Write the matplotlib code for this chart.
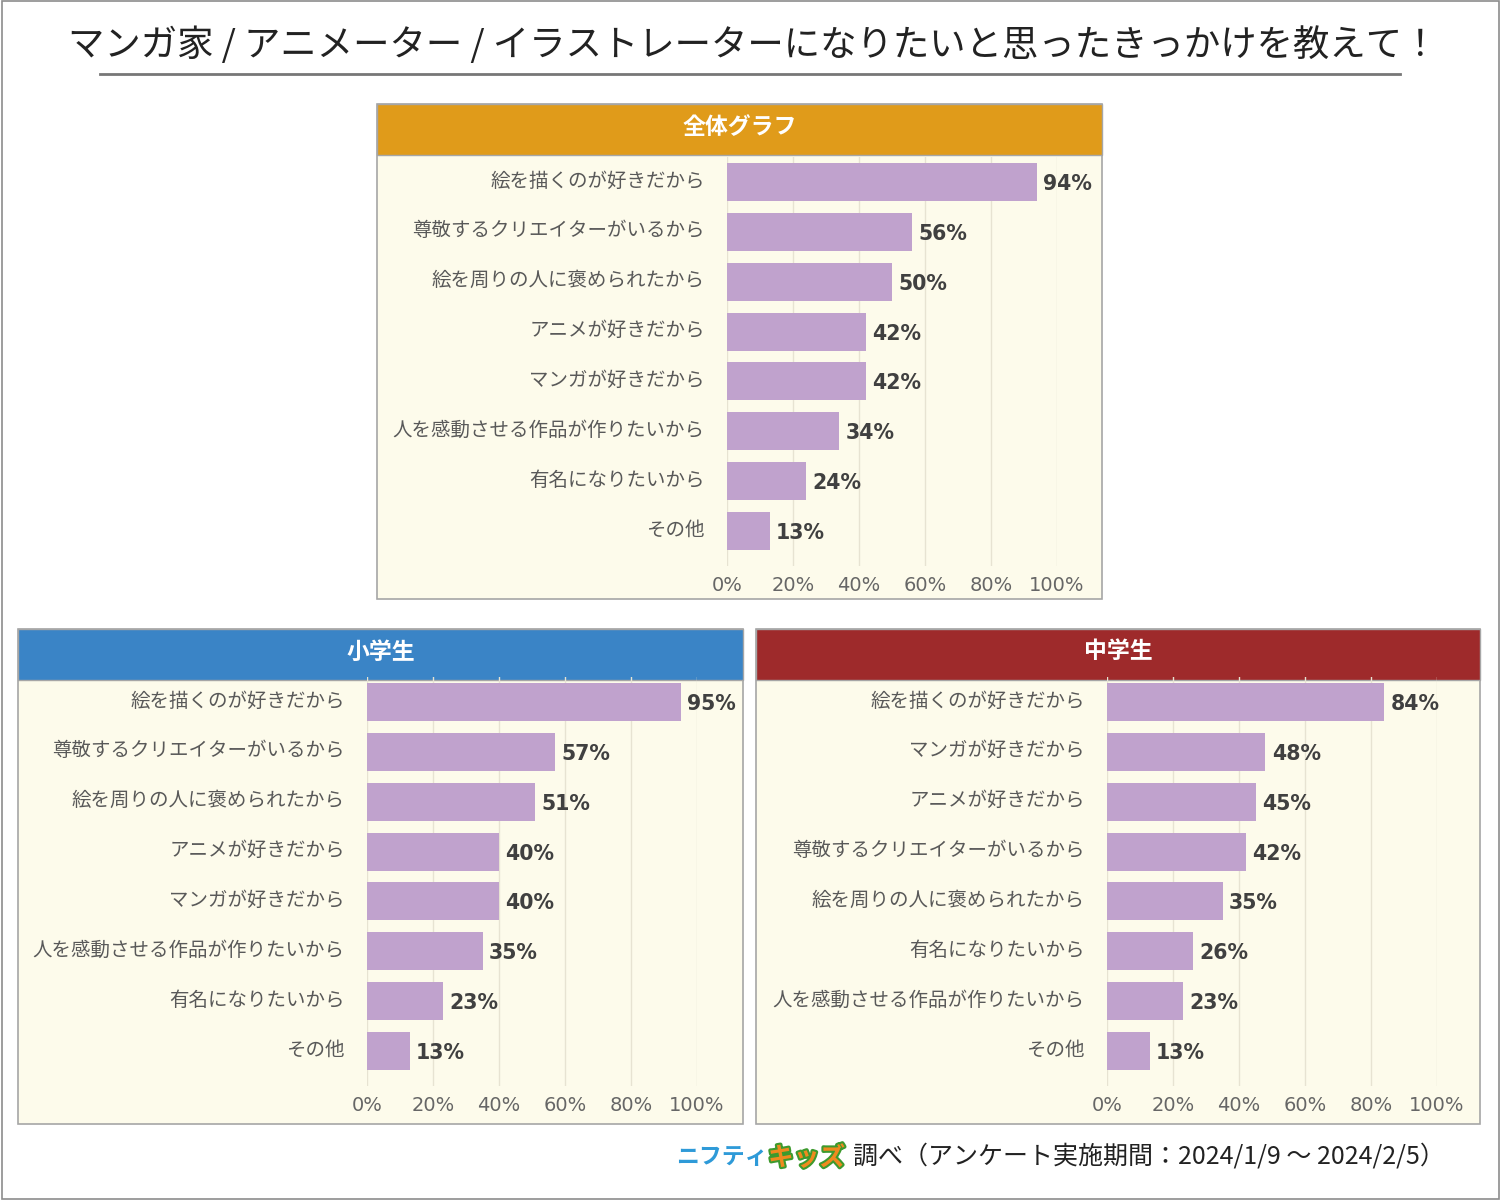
import matplotlib.pyplot as plt
from matplotlib.patches import Rectangle
from matplotlib.lines import Line2D
import matplotlib.patheffects as pe

# fonts: Japanese text first, digits look closer to Verdana in DejaVu
JP = ['Noto Sans CJK JP', 'DejaVu Sans']
NUM = ['DejaVu Sans', 'Noto Sans CJK JP']

TITLE = "マンガ家 / アニメーター / イラストレーターになりたいと思ったきっかけを教えて！"

# 全体グラフ
all_labels = ["絵を描くのが好きだから", "尊敬するクリエイターがいるから", "絵を周りの人に褒められたから",
              "アニメが好きだから", "マンガが好きだから", "人を感動させる作品が作りたいから",
              "有名になりたいから", "その他"]
all_values = [94, 56, 50, 42, 42, 34, 24, 13]

# 小学生
elem_labels = ["絵を描くのが好きだから", "尊敬するクリエイターがいるから", "絵を周りの人に褒められたから",
               "アニメが好きだから", "マンガが好きだから", "人を感動させる作品が作りたいから",
               "有名になりたいから", "その他"]
elem_values = [95, 57, 51, 40, 40, 35, 23, 13]

# 中学生
junior_labels = ["絵を描くのが好きだから", "マンガが好きだから", "アニメが好きだから",
                 "尊敬するクリエイターがいるから", "絵を周りの人に褒められたから", "有名になりたいから",
                 "人を感動させる作品が作りたいから", "その他"]
junior_values = [84, 48, 45, 42, 35, 26, 23, 13]

xticks = [0, 20, 40, 60, 80, 100]

BAR_COLOR = "#C0A2CD"
BODY_COLOR = "#FDFBEB"
GRID_COLOR = "#E7E3D2"

W, H = 1500, 1200
fig = plt.figure(figsize=(15, 12), dpi=100)


def fx(x):
    return x / W


def fy(y):
    return 1 - y / H


def px_rect(x0, y0, x1, y1):
    return [fx(x0), fy(y1), (x1 - x0) / W, (y1 - y0) / H]


# outer frame
fig.add_artist(Rectangle((0.001, 0.001), 0.998, 0.998, transform=fig.transFigure,
                         fill=False, edgecolor="#8C8C8C", lw=1.2))

fig.text(fx(753), fy(45), TITLE, ha="center", va="center", fontsize=26.2,
         color="#222222", family=JP)
fig.add_artist(Line2D([fx(100), fx(1400)], [fy(74), fy(74)], transform=fig.transFigure,
                      color="#777777", lw=2))


def panel(box, head_color, head_text, labels, values, ax_x, ax_y):
    x0, y0, x1, y1 = box
    # body + header
    fig.add_artist(Rectangle((fx(x0), fy(y1)), (x1 - x0) / W, (y1 - y0) / H,
                             transform=fig.transFigure, facecolor=BODY_COLOR,
                             edgecolor="#A6A6A6", lw=1.2, zorder=0))
    fig.add_artist(Rectangle((fx(x0), fy(y0 + 51)), (x1 - x0) / W, 51 / H,
                             transform=fig.transFigure, facecolor=head_color,
                             edgecolor="#A6A6A6", lw=1.0, zorder=0))
    fig.text(fx((x0 + x1) / 2), fy(y0 + 23), head_text, ha="center", va="center",
             fontsize=16.5, fontweight="bold", color="white", family=JP)

    ax = fig.add_axes(px_rect(ax_x[0], ax_y[0], ax_x[1], ax_y[1]))
    ax.set_facecolor("none")
    n = len(values)
    ax.barh(range(n), values, height=0.76, color=BAR_COLOR, zorder=2)
    for i, v in enumerate(values):
        ax.text(v + 1.9, i + 0.04, f"{v}%", va="center", ha="left", fontsize=14.8,
                fontweight="bold", color="#404040", family=NUM, clip_on=False)
    ax.set_xlim(0, 100)
    ax.set_ylim(n - 0.5 + 0.2, -0.5)
    ax.set_xticks(xticks)
    ax.set_xticklabels([f"{t}%" for t in xticks], fontsize=14, color="#666666", family=NUM)
    # labels sit a little above the bar centre in the original
    ax.set_yticks([i - 0.07 for i in range(n)])
    ax.set_yticklabels(labels, fontsize=14, color="#595959", family=JP)
    ax.tick_params(axis="both", length=0)
    ax.tick_params(axis="x", pad=7)
    ax.tick_params(axis="y", pad=16)
    for s in ax.spines.values():
        s.set_visible(False)
    ax.xaxis.grid(True, color=GRID_COLOR, lw=1)
    ax.yaxis.grid(False)
    ax.set_axisbelow(True)
    return ax


panel((377, 104, 1102, 599), "#E09B1A", "全体グラフ", all_labels, all_values,
      (727, 1057), (157, 566))
panel((18, 629, 743, 1124), "#3A84C6", "小学生", elem_labels, elem_values,
      (367, 697), (677, 1086))
panel((756, 629, 1480, 1124), "#9E2A2B", "中学生", junior_labels, junior_values,
      (1107, 1437), (677, 1086))

# footer
fig.text(fx(676), fy(1158), "ニフティ", ha="left", va="center", fontsize=16.5,
         fontweight="bold", color="#2E9AD8", family=JP)
fig.text(fx(768), fy(1158), "キッズ", ha="left", va="center", fontsize=18.5,
         fontweight="bold", color="#F08A1E", family=JP,
         path_effects=[pe.withStroke(linewidth=3, foreground="#3D9A2E")])
fig.text(fx(853), fy(1157), "調べ（アンケート実施期間：2024/1/9 ～ 2024/2/5）", ha="left",
         va="center", fontsize=18, color="#222222", family=JP)

fig.savefig("out.png", dpi=100)
